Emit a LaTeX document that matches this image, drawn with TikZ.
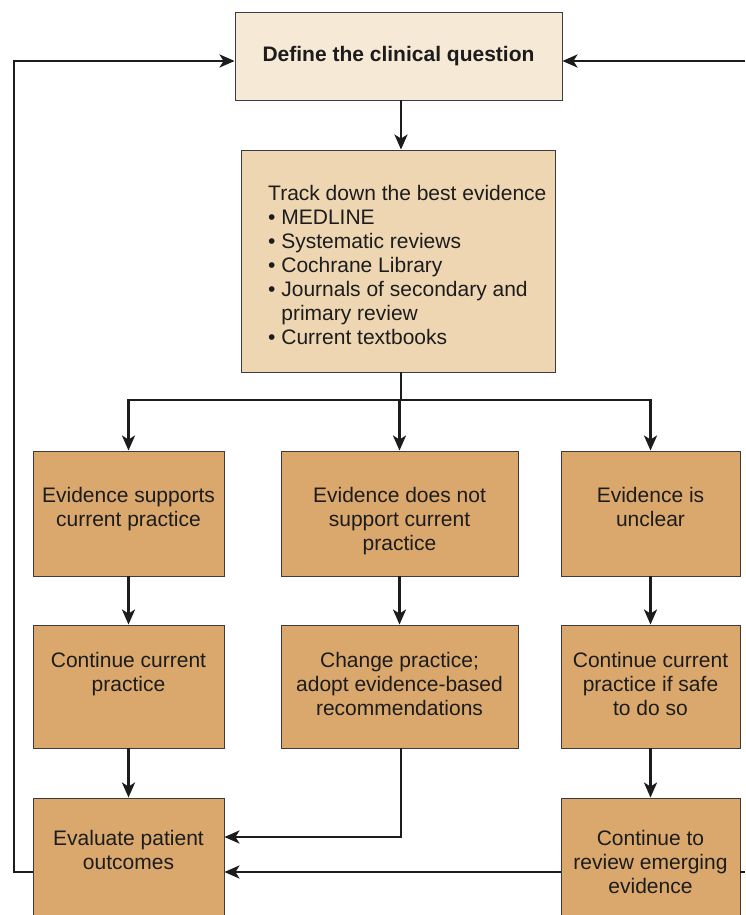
\documentclass[tikz,border=0pt]{standalone}
\usepackage{fontspec}
\setmainfont{Liberation Sans}
\usetikzlibrary{arrows.meta}

\definecolor{defbg}{RGB}{246,233,214}
\definecolor{trackbg}{RGB}{239,214,179}
\definecolor{tanbg}{RGB}{218,168,109}
\definecolor{boxline}{RGB}{60,60,60}
\definecolor{ink}{RGB}{28,28,28}

\begin{document}
\begin{tikzpicture}[x=1pt,y=-1pt,
    box/.style={draw=boxline, line width=0.9pt, inner sep=0pt},
    txt/.style={align=center, inner sep=0pt, anchor=north, text=ink, font=\fontsize{21}{24}\selectfont},
    arr/.style={line width=2.9pt, ink, -{Stealth[length=15pt,width=13pt,inset=4pt]}},
    ln/.style={line width=2.9pt, ink}]
        % Page size (the picture is cut at the bottom and right)
        \useasboundingbox (0,0) rectangle (745,915);
        \clip (0,0) rectangle (745,915);

        % Column centres and widths
        \def\xa{128.5} \def\wa{191}
        \def\xb{399.5} \def\wb{237}
        \def\xc{650.5} \def\wc{179}

        % Top boxes
        \node[box, fill=defbg, text=ink, minimum width=327, minimum height=88] (def) at (398.5,56)
          {\fontsize{21}{24}\selectfont\bfseries Define the clinical question};
        \node[box, fill=trackbg, minimum width=314, minimum height=222] (track) at (398,261) {};
        \node[inner sep=0pt, anchor=north west, align=left, text=ink, font=\fontsize{21}{24}\selectfont] (tracktxt)
          at (268,185) {Track down the best evidence\\
            \textbullet\ MEDLINE\\
            \textbullet\ Systematic reviews\\
            \textbullet\ Cochrane Library\\
            \textbullet\ Journals of secondary and\\
            \hphantom{\textbullet\ }primary review\\
            \textbullet\ Current textbooks};

        % Row 1: what the evidence says
        \node[box, fill=tanbg, minimum width=\wa, minimum height=125] (sup) at (\xa,513.5) {};
        \node[box, fill=tanbg, minimum width=\wb, minimum height=125] (nosup) at (\xb,513.5) {};
        \node[box, fill=tanbg, minimum width=\wc, minimum height=125] (unc) at (\xc,513.5) {};
        \node[txt] (suptxt) at ([yshift=-37]sup.north) {Evidence supports\\current practice};
        \node[txt] (nosuptxt) at ([yshift=-37]nosup.north) {Evidence does not\\support current\\practice};
        \node[txt] (unctxt) at ([yshift=-37]unc.north) {Evidence is\\unclear};

        % Row 2: what to do
        \node[box, fill=tanbg, minimum width=\wa, minimum height=123] (cont) at (\xa,686.5) {};
        \node[box, fill=tanbg, minimum width=\wb, minimum height=123] (change) at (\xb,686.5) {};
        \node[box, fill=tanbg, minimum width=\wc, minimum height=123] (safe) at (\xc,686.5) {};
        \node[txt] (conttxt) at ([yshift=-28]cont.north) {Continue current\\practice};
        \node[txt] (changetxt) at ([yshift=-28]change.north) {Change practice;\\adopt evidence-based\\recommendations};
        \node[txt] (safetxt) at ([yshift=-28]safe.north) {Continue current\\practice if safe\\to do so};

        % Row 3 (runs off the bottom)
        \node[box, fill=tanbg, minimum width=\wa, minimum height=150] (eval) at (\xa,873) {};
        \node[box, fill=tanbg, minimum width=\wc, minimum height=150] (review) at (\xc,873) {};
        \node[txt] (evaltxt) at ([yshift=-33]eval.north) {Evaluate patient\\outcomes};
        \node[txt] (reviewtxt) at ([yshift=-33]review.north) {Continue to\\review emerging\\evidence};

        % Helper points for the connectors
        \coordinate (split) at (401,400);
        \coordinate (lft) at (14,61);
        \coordinate (rgt) at (745,61);
        \coordinate (rgtb) at (745,872);

        % Downward flow
        \draw[arr] (def.south -| split) -- (track.north -| split);
        \foreach \b in {sup,nosup,unc}
          \draw[arr] (track.south -| split) -- (split) -| (\b.north);
        \draw[arr] (sup) -- (cont);
        \draw[arr] (nosup) -- (change);
        \draw[arr] (unc) -- (safe);
        \draw[arr] (cont) -- (eval);
        \draw[arr] (safe) -- (review);
        \draw[arr] (change.south -| split) |- (eval.east |- 0,837);
        \draw[arr] (review.west |- rgtb) -- (eval.east |- rgtb);

        % Feedback loops back to the question
        \draw[arr] (eval.west |- rgtb) -| (lft) -- (def.west |- lft);
        \draw[ln] (review.east |- rgtb) -- (rgtb);
        \draw[arr] (rgt) -- (def.east |- rgt);
\end{tikzpicture}
\end{document}
